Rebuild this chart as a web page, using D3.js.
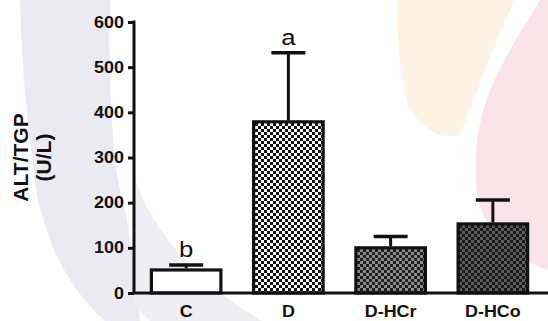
<!DOCTYPE html>
<html>
<head>
<meta charset="utf-8">
<script src="https://cdn.jsdelivr.net/npm/d3@7"></script>
<style>
  body { margin: 0; background: #fff; }
  svg { display: block; font-family: "Liberation Sans", Arial, sans-serif; }
</style>
</head>
<body>
<div id="chart"></div>
<script>
const categories = ['C', 'D', 'D-HCr', 'D-HCo'];
const means = [51, 379, 100, 153];
const errors = [11, 153, 25, 53];
const letters = ['b', 'a', '', ''];
const yTicks = [0, 100, 200, 300, 400, 500, 600];
// checker fill colours per bar: [light, dark]
const checkers = [null, ['#ffffff', '#111111'], ['#8a8a8a', '#1e1e1e'], ['#5c5c5c', '#1a1a1a']];

const W = 548, H = 321;
const margin = {top: 22, right: 0, bottom: 28, left: 134};
const stretch = 'scale(1.12,1)'; // source image is a bit wider than tall

const svg = d3.select('#chart').append('svg')
  .attr('width', W)
  .attr('height', H);

// faint watermark in the background
const bg = svg.append('g');
bg.append('path')
  .attr('d', 'M20,0 L110,0 C108,80 112,170 125,210 C132,250 138,290 140,321 L105,321 C70,290 50,250 38,200 C28,140 22,70 20,0 Z')
  .attr('fill', '#ebeaf1');
bg.append('path')
  .attr('d', 'M134,175 C150,230 200,285 262,321 L150,321 L134,305 Z')
  .attr('fill', '#efeef3');
bg.append('path')
  .attr('d', 'M397,0 L515,0 C495,40 478,90 460,135 C440,140 425,130 410,110 C400,80 397,40 397,0 Z')
  .attr('fill', '#fdf4e6');
bg.append('path')
  .attr('d', 'M540,0 L548,0 L548,270 C520,262 490,240 478,200 C472,160 478,120 490,90 C505,55 525,25 540,0 Z')
  .attr('fill', '#f9e5e9');

const defs = svg.append('defs');
checkers.forEach((c, i) => {
  if (!c) return;
  const p = defs.append('pattern')
    .attr('id', 'chk' + i)
    .attr('patternUnits', 'userSpaceOnUse')
    .attr('width', 6)
    .attr('height', 6);
  p.append('rect').attr('width', 6).attr('height', 6).attr('fill', c[0]);
  p.append('rect').attr('width', 3).attr('height', 3).attr('fill', c[1]);
  p.append('rect').attr('x', 3).attr('y', 3).attr('width', 3).attr('height', 3).attr('fill', c[1]);
});

const x = d3.scaleBand()
  .domain(categories)
  .range([margin.left, W - 3])
  .paddingInner(0.32)
  .paddingOuter(0.17);

const y = d3.scaleLinear()
  .domain([0, 600])
  .range([H - margin.bottom, margin.top]);

const chart = svg.append('g');

// bars
chart.selectAll('rect.bar')
  .data(categories)
  .enter().append('rect')
  .attr('class', 'bar')
  .attr('x', d => x(d))
  .attr('y', (d, i) => y(means[i]))
  .attr('width', x.bandwidth())
  .attr('height', (d, i) => y(0) - y(means[i]))
  .attr('fill', (d, i) => checkers[i] ? 'url(#chk' + i + ')' : '#fff')
  .attr('stroke', '#111')
  .attr('stroke-width', 3.2);

// error bars (upper only)
const capW = 34;
const err = chart.selectAll('g.err')
  .data(categories)
  .enter().append('g')
  .attr('class', 'err');
err.append('line')
  .attr('x1', d => x(d) + x.bandwidth() / 2)
  .attr('x2', d => x(d) + x.bandwidth() / 2)
  .attr('y1', (d, i) => y(means[i]) - 1.5)
  .attr('y2', (d, i) => y(means[i] + errors[i]))
  .attr('stroke', '#111')
  .attr('stroke-width', 3);
err.append('line')
  .attr('x1', d => x(d) + x.bandwidth() / 2 - capW / 2)
  .attr('x2', d => x(d) + x.bandwidth() / 2 + capW / 2)
  .attr('y1', (d, i) => y(means[i] + errors[i]))
  .attr('y2', (d, i) => y(means[i] + errors[i]))
  .attr('stroke', '#111')
  .attr('stroke-width', 3.5);

// significance letters
chart.selectAll('text.sig')
  .data(categories)
  .enter().append('text')
  .attr('class', 'sig')
  .attr('transform', (d, i) => `translate(${x(d) + x.bandwidth() / 2},${y(means[i] + errors[i]) - 8}) ${stretch}`)
  .attr('text-anchor', 'middle')
  .attr('font-size', 23)
  .attr('fill', '#111')
  .text((d, i) => letters[i]);

// y axis
const yAxis = svg.append('g')
  .attr('transform', `translate(${margin.left},0)`)
  .call(d3.axisLeft(y).tickValues(yTicks).tickSize(6).tickPadding(3).tickSizeOuter(0));
yAxis.select('.domain').attr('stroke', '#111').attr('stroke-width', 3)
  .attr('d', `M0,${y(600) - 1.5}V${y(0)}`);
yAxis.selectAll('.tick line').attr('stroke', '#111').attr('stroke-width', 3);
yAxis.selectAll('.tick text')
  .attr('transform', stretch)
  .attr('font-size', 16)
  .attr('font-weight', 'bold')
  .attr('fill', '#111')
  .attr('font-family', '"Liberation Sans", Arial, sans-serif');

// x axis
const xAxis = svg.append('g')
  .attr('transform', `translate(0,${y(0)})`)
  .call(d3.axisBottom(x).tickSize(0));
xAxis.select('.domain').attr('stroke', '#111').attr('stroke-width', 3)
  .attr('d', `M${margin.left - 1.5},0H${W}`);
xAxis.selectAll('.tick text')
  .attr('transform', stretch)
  .attr('y', 24)
  .attr('dy', 0)
  .attr('font-size', 16)
  .attr('font-weight', 'bold')
  .attr('fill', '#111')
  .attr('font-family', '"Liberation Sans", Arial, sans-serif');

// y title
const yTitle = svg.append('text')
  .attr('transform', `translate(0,${(y(0) + y(600)) / 2}) rotate(-90)`)
  .attr('text-anchor', 'middle')
  .attr('font-size', 21)
  .attr('font-weight', 'bold')
  .attr('fill', '#111');
yTitle.append('tspan').attr('x', 0).attr('dy', 28).text('ALT/TGP');
yTitle.append('tspan').attr('x', 0).attr('dy', 23).text('(U/L)');
</script>
</body>
</html>
